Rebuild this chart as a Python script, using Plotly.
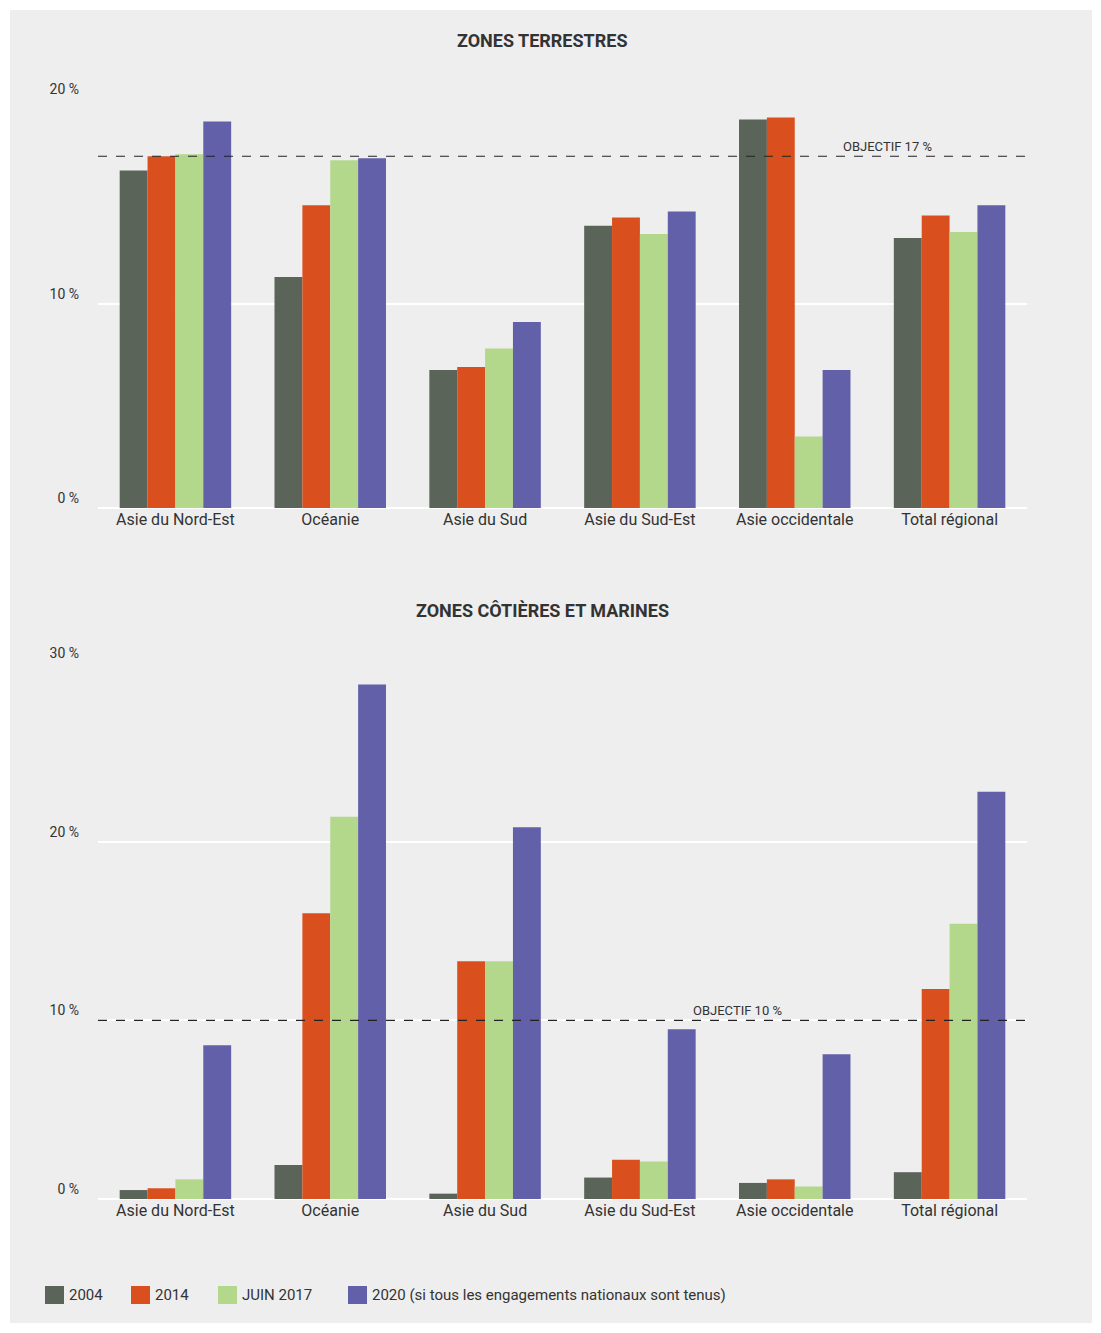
import plotly.graph_objects as go
from plotly.subplots import make_subplots

regions = ["Asie du Nord-Est", "Océanie", "Asie du Sud", "Asie du Sud-Est",
           "Asie occidentale", "Total régional"]
series = ["2004", "2014", "JUIN 2017", "2020 (si tous les engagements nationaux sont tenus)"]
colors = ["#5a6459", "#d9501e", "#b3d88c", "#6160a8"]

terrestres = [
    [16.5, 11.3, 6.75, 13.8, 19.0, 13.2],
    [17.2, 14.8, 6.9, 14.2, 19.1, 14.3],
    [17.3, 17.0, 7.8, 13.4, 3.5, 13.5],
    [18.9, 17.1, 9.1, 14.5, 6.75, 14.8],
]
marines = [
    [0.5, 1.9, 0.3, 1.2, 0.9, 1.5],
    [0.6, 16.0, 13.3, 2.2, 1.1, 11.75],
    [1.1, 21.4, 13.3, 2.1, 0.7, 15.4],
    [8.6, 28.8, 20.8, 9.5, 8.1, 22.8],
]
ticks_terre = [0, 10, 20]
ticks_mer = [0, 10, 20, 30]
objectif_terre = 17.2
objectif_mer = 10

W, H = 1101, 1333
L, R = 98, 1027
PW = R - L
font = "Liberation Sans Narrow, Roboto, Arial, sans-serif"

fig = make_subplots(rows=2, cols=1)
for i, name in enumerate(series):
    fig.add_trace(go.Bar(x=regions, y=terrestres[i], name=name, marker_color=colors[i],
                         marker_line_width=0), row=1, col=1)
    fig.add_trace(go.Bar(x=regions, y=marines[i], name=name, marker_color=colors[i],
                         marker_line_width=0), row=2, col=1)

def ydom(top, bottom):
    return [(H - bottom) / H, (H - top) / H]

def px(x):
    return (x - L) / PW

yaxis_common = dict(ticklabelposition="outside top", ticklabelstandoff=18,
                    gridcolor="white", gridwidth=2, zeroline=True,
                    zerolinecolor="white", zerolinewidth=2, tickfont=dict(size=14))

fig.update_layout(
    width=W, height=H,
    margin=dict(l=L, r=W - R, t=0, b=0, autoexpand=False),
    paper_bgcolor="white", plot_bgcolor="#eeeeee",
    barmode="group", bargap=0.28, bargroupgap=0,
    font=dict(family=font, size=15, color="#333"),
    showlegend=False,
    xaxis=dict(domain=[0, 1], showgrid=False, tickfont=dict(size=16)),
    xaxis2=dict(domain=[0, 1], showgrid=False, tickfont=dict(size=16)),
    yaxis=dict(domain=ydom(99, 508), range=[0, 20], tickvals=ticks_terre,
               ticktext=[f"{t} %" for t in ticks_terre], **yaxis_common),
    yaxis2=dict(domain=ydom(663, 1199), range=[0, 30], tickvals=ticks_mer,
                ticktext=[f"{t} %" for t in ticks_mer], **yaxis_common),
)

# gray panel behind everything
fig.add_shape(type="rect", xref="paper", yref="paper", layer="below",
              x0=px(10), x1=px(1092), y0=(H - 1323) / H, y1=(H - 10) / H,
              fillcolor="#eeeeee", line_width=0)

fig.add_shape(type="line", xref="paper", yref="y", x0=0, x1=1, y0=objectif_terre, y1=objectif_terre,
              line=dict(color="#222", width=1.2, dash="dash"))
fig.add_shape(type="line", xref="paper", yref="y2", x0=0, x1=1, y0=objectif_mer, y1=objectif_mer,
              line=dict(color="#222", width=1.2, dash="dash"))
fig.add_annotation(x=0.9, y=objectif_terre, xref="paper", yref="y", text="OBJECTIF 17 %",
                   showarrow=False, yanchor="bottom", font=dict(size=13))
fig.add_annotation(x=0.738, y=objectif_mer, xref="paper", yref="y2", text="OBJECTIF 10 %",
                   showarrow=False, yanchor="bottom", font=dict(size=13))

fig.add_annotation(x=px(542), y=(H - 28) / H, xref="paper", yref="paper",
                   text="<b>ZONES TERRESTRES</b>", showarrow=False, font=dict(size=18))
fig.add_annotation(x=px(542), y=(H - 610) / H, xref="paper", yref="paper",
                   text="<b>ZONES CÔTIÈRES ET MARINES</b>", showarrow=False, font=dict(size=18))

# legend drawn by hand
legend_x = [45, 131, 218, 348]
ly0, ly1 = (H - 1304) / H, (H - 1286) / H
for xs, name, c in zip(legend_x, series, colors):
    fig.add_shape(type="rect", xref="paper", yref="paper", x0=px(xs), x1=px(xs + 19),
                  y0=ly0, y1=ly1, fillcolor=c, line_width=0)
    fig.add_annotation(x=px(xs + 22), y=(ly0 + ly1) / 2, xref="paper", yref="paper",
                       text=name, showarrow=False, xanchor="left", yanchor="middle",
                       font=dict(size=15))

fig.write_html("out.html", config={"displayModeBar": False},
               post_script="document.body.style.margin='0';")
